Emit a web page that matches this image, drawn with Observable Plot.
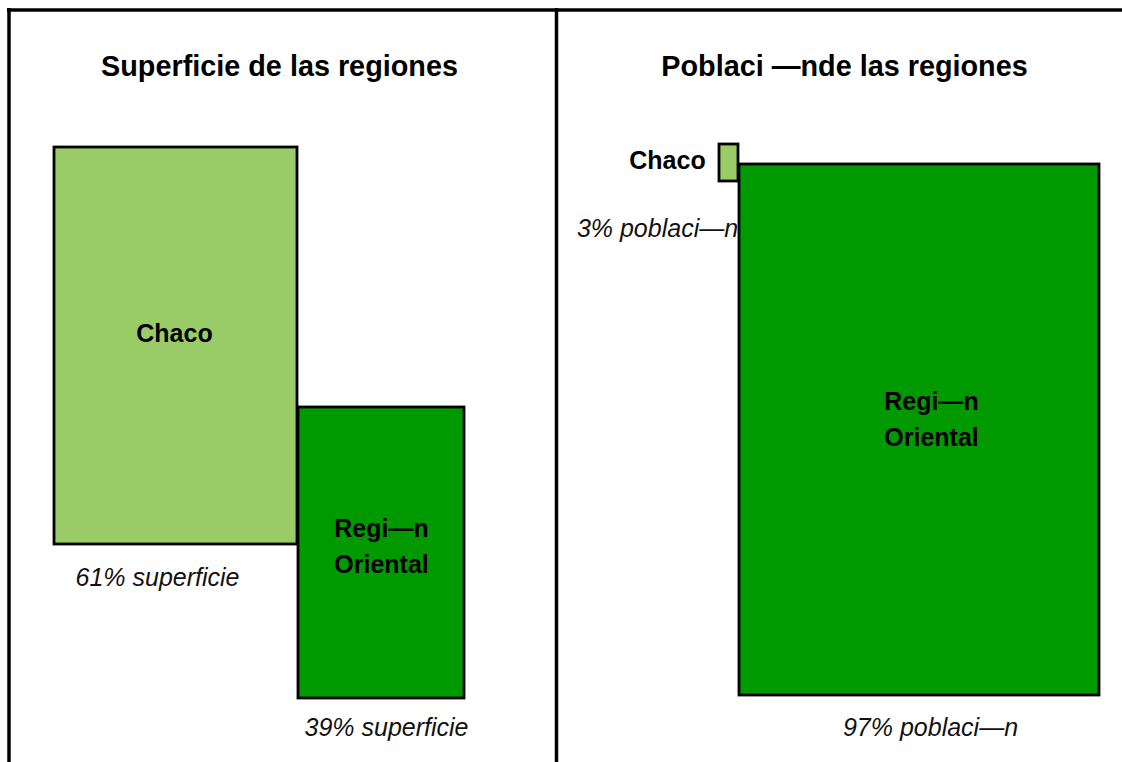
<!DOCTYPE html>
<html>
<head>
<meta charset="utf-8">
<script src="https://cdn.jsdelivr.net/npm/d3@7"></script>
<script src="https://cdn.jsdelivr.net/npm/@observablehq/plot@0.6"></script>
<style>
  html, body { margin: 0; padding: 0; background: #fff; }
  #chart svg { display: block; }
</style>
</head>
<body>
<div id="chart"></div>
<script>
// ---- data ----
const titles = ["Superficie de las regiones", "Poblaci —nde las regiones"];
const regions = ["Chaco", "Regi—n\nOriental"];
const superficie = [61, 39];   // % of surface
const poblacion = [3, 97];     // % of population

// ---- layout (chart units = picture pixels) ----
const boxX1 = [54, 298, 719, 739];
const boxX2 = [297, 464, 738, 1099];
const boxY1 = [147, 407, 144, 164];
const boxY2 = [544, 698, 181, 695];
const nameX = [174, 381, 667, 931];
const nameY = [330, 543, 157, 416];
const pctX = [157, 386, 657, 930];
const pctY = [577, 727, 228, 727];
const titleX = [279, 844];
const titleY = [66, 66];

const fills = ["#99cc66", "#009900"];

const boxes = [0, 1, 2, 3].map(i => ({
  x1: boxX1[i], x2: boxX2[i], y1: boxY1[i], y2: boxY2[i],
  fill: fills[i % 2],
  name: regions[i % 2],
  nx: nameX[i], ny: nameY[i],
  pct: i < 2 ? `${superficie[i]}% superficie` : `${poblacion[i - 2]}% poblaci—n`,
  px: pctX[i], py: pctY[i]
}));
const titleData = titles.map((t, i) => ({t, x: titleX[i], y: titleY[i]}));

const font = "Liberation Sans, Arial, Helvetica, sans-serif";

const chart = Plot.plot({
  width: 1122,
  height: 762,
  margin: 0,
  x: {domain: [0, 1122], range: [0, 1122], axis: null},
  y: {domain: [0, 762], range: [0, 762], axis: null},
  style: {fontFamily: font, background: "#fff"},
  marks: [
    // percentage label of small Chaco (right) sits beneath the big rectangle
    Plot.text([boxes[2]], {x: "px", y: "py", text: "pct", fontSize: 25, fontStyle: "italic", fill: "#111", textAnchor: "middle", fontFamily: font}),
    Plot.rect(boxes, {x1: "x1", x2: "x2", y1: "y1", y2: "y2", fill: "fill", stroke: "#000", strokeWidth: 2.8}),
    Plot.text([boxes[0], boxes[1], boxes[3]], {x: "px", y: "py", text: "pct", fontSize: 25, fontStyle: "italic", fill: "#111", textAnchor: "middle", fontFamily: font}),
    Plot.text(boxes, {x: "nx", y: "ny", text: "name", fontSize: 25, fontWeight: "bold", fill: "#000", textAnchor: "middle", lineHeight: 1.42, fontFamily: font}),
    Plot.text(titleData, {x: "x", y: "y", text: "t", fontSize: 28.8, fontWeight: "bold", fill: "#000", textAnchor: "middle", fontFamily: font}),
    // frame lines
    Plot.ruleY([9.5], {x1: 7, x2: 1122, stroke: "#000", strokeWidth: 3.5}),
    Plot.ruleX([8.5, 556], {y1: 8, y2: 762, stroke: "#000", strokeWidth: 3.5})
  ]
});
document.getElementById("chart").appendChild(chart);
</script>
</body>
</html>
